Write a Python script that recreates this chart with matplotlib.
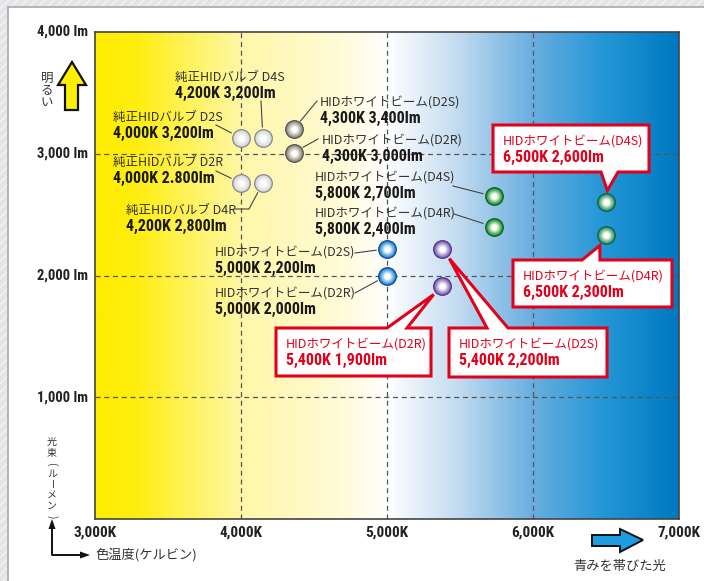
import matplotlib.pyplot as plt
import matplotlib.transforms as mtransforms
import numpy as np
from matplotlib import font_manager
from matplotlib.colors import LinearSegmentedColormap, to_rgb
from matplotlib.patches import Polygon, Rectangle

W, H = 704, 581

# 日本語フォントと細めの数字フォント
JP = 'Noto Sans CJK JP'
installed = {f.name for f in font_manager.fontManager.ttflist}
NUM = 'Roboto'
for cand in ['Liberation Sans Narrow', 'Roboto Condensed', 'Open Sans Condensed']:
    if cand in installed:
        NUM = cand
        break
NUM_SIZE = 11 if NUM != 'Roboto' else 10
plt.rcParams['font.family'] = [JP, 'DejaVu Sans']

# ---- データ（グラフから読み取った位置） ----
names = ['純正HIDバルブ D2S', '純正HIDバルブ D4S', '純正HIDバルブ D2R', '純正HIDバルブ D4R',
         'HIDホワイトビーム(D2S)', 'HIDホワイトビーム(D2R)',
         'HIDホワイトビーム(D4S)', 'HIDホワイトビーム(D4R)',
         'HIDホワイトビーム(D2S)', 'HIDホワイトビーム(D2R)',
         'HIDホワイトビーム(D2S)', 'HIDホワイトビーム(D2R)',
         'HIDホワイトビーム(D4S)', 'HIDホワイトビーム(D4R)']
values = ['4,000K 3,200lm', '4,200K 3,200lm', '4,000K 2.800lm', '4,200K 2,800lm',
          '4,300K 3,400lm', '4,300K 3,000lm',
          '5,800K 2,700lm', '5,800K 2,400lm',
          '5,000K 2,200lm', '5,000K 2,000lm',
          '5,400K 2,200lm', '5,400K 1,900lm',
          '6,500K 2,600lm', '6,500K 2,300lm']
kelvin = [4000, 4150, 4000, 4150, 4360, 4360, 5730, 5730, 5000, 5000, 5380, 5380, 6500, 6500]
lumen = [3130, 3130, 2760, 2760, 3200, 3010, 2650, 2400, 2220, 2000, 2220, 1910, 2600, 2330]
kind = ['white', 'white', 'white', 'white', 'gray', 'gray', 'green', 'green',
        'blue', 'blue', 'purple', 'purple', 'teal', 'teal']

x_ticks = [3000, 4000, 5000, 6000, 7000]
x_tick_labels = ['3,000K', '4,000K', '5,000K', '6,000K', '7,000K']
y_ticks = [1000, 2000, 3000, 4000]
y_tick_labels = ['1,000 lm', '2,000 lm', '3,000 lm', '4,000 lm']

# 玉の色 (縁, 中間)
ball_colors = {
    'white': ('#8a8a8a', '#d4d8de'),
    'gray': ('#555555', '#8e8e88'),
    'green': ('#0c6626', '#24963a'),
    'blue': ('#0a4c9a', '#2a8ade'),
    'purple': ('#51338a', '#8466c0'),
    'teal': ('#0b6446', '#34966a'),
}

fig = plt.figure(figsize=(W / 100, H / 100), dpi=100)
fig.patch.set_facecolor('#e4e5e8')
# 参照画像のピクセル座標 (左上原点)
T = mtransforms.Affine2D().scale(1 / W, -1 / H).translate(0, 1) + fig.transFigure

# 背景の斜線模様
for s in range(-600, 1400, 9):
    fig.add_artist(plt.Line2D([s / W, (s + 600) / W], [0, 1], color='#f2f2f4', lw=1.2,
                              transform=fig.transFigure, zorder=0))
fig.add_artist(Rectangle((8, 7), 720, 600, transform=T, facecolor='white',
                         edgecolor='#a9a9a9', lw=1.2, zorder=1))

ax = fig.add_axes([95 / W, 1 - 519 / H, (679 - 95) / W, (519 - 32) / H])
ax.set_zorder(2)
ax.set_xlim(3000, 7000)
ax.set_ylim(0, 4000)

# 色温度グラデーション
cmap = LinearSegmentedColormap.from_list('kelvin', [
    (0.00, '#ffec00'), (0.07, '#ffee10'), (0.25, '#fff7a8'), (0.42, '#fffbd8'),
    (0.50, '#ffffff'), (0.62, '#c4dcf1'), (0.75, '#6aaee0'), (0.87, '#2597d6'),
    (1.00, '#0079c2')])
ax.imshow(np.linspace(0, 1, 400)[None, :], cmap=cmap, aspect='auto',
          extent=[3000, 7000, 0, 4000], zorder=0)

for k in x_ticks[1:-1]:
    ax.axvline(k, color='#555555', lw=0.9, ls=(0, (4, 3)), zorder=1)
for v in y_ticks[:-1]:
    ax.axhline(v, color='#555555', lw=0.9, ls=(0, (4, 3)), zorder=1)

ax.set_xticks([])
ax.set_yticks([])
for sp in ax.spines.values():
    sp.set_color('#444444')
    sp.set_linewidth(1.2)

# 目盛りラベル
for k, lab in zip(x_ticks, x_tick_labels):
    ax.annotate(lab, (k, 0), xytext=(0, -10), textcoords='offset points', ha='center',
                va='center', fontsize=NUM_SIZE, fontweight='bold', family=NUM, color='#222222',
                annotation_clip=False)
for v, lab in zip(y_ticks, y_tick_labels):
    ax.annotate(lab, (3000, v), xytext=(-5, 0), textcoords='offset points', ha='right',
                va='center', fontsize=NUM_SIZE - 0.5, fontweight='bold', family=NUM,
                color='#222222', annotation_clip=False)


def to_px(k, v):
    return T.inverted().transform(ax.transData.transform((k, v)))


# 玉 (縁 -> 中間色 -> 白いハイライト)
for k, v, c in zip(kelvin, lumen, kind):
    rim, mid = np.array(to_rgb(ball_colors[c][0])), np.array(to_rgb(ball_colors[c][1]))
    white = np.array([1.0, 1.0, 0.97])
    ax.scatter(k, v, s=185, color=rim, lw=0, zorder=5)
    steps = 10
    for i in range(steps):
        t = i / (steps - 1)
        col = mid * (1 - t) + white * t
        frac = 0.86 - 0.56 * t
        ax.scatter(k, v, s=185 * frac ** 2, color=col, lw=0, zorder=5.01 + i * 0.01)

R = 9  # 玉の半径 (px)


def toward(p, q, d):
    p, q = np.asarray(p, float), np.asarray(q, float)
    u = (q - p) / np.hypot(*(q - p))
    return p + u * d


# 黒い注記: (x, 1行目y, 引出線の点列)
black_labels = {
    0: (113, 117, [(216, 125)]),
    1: (175, 77, [(261, 101)]),
    2: (113, 162, [(216, 171)]),
    3: (126, 210, [(235, 209), (249, 209)]),
    4: (320, 102, [(317, 101)]),
    5: (322, 140, [(318, 139)]),
    6: (315, 177, [(453, 186)]),
    7: (315, 213, [(454, 214)]),
    8: (215, 252, [(355, 253)]),
    9: (215, 293, [(355, 293)]),
}
for i, (tx, ty, pts) in black_labels.items():
    fig.text(tx / W, 1 - ty / H, names[i], fontsize=9, color='#333333', va='center', ha='left')
    fig.text(tx / W, 1 - (ty + 16) / H, values[i], fontsize=NUM_SIZE + 0.5, fontweight='bold',
             family=[NUM, JP], color='#1a1a1a', va='center', ha='left')
    c = to_px(kelvin[i], lumen[i])
    end = toward(c, pts[-1], R + 2)
    line = np.array(pts + [tuple(end)])
    fig.add_artist(plt.Line2D(line[:, 0], line[:, 1], color='#444444', lw=0.8,
                              transform=T, zorder=6))

# 赤い吹き出し: (左, 上, 右, 下, 尾の根元x1, x2, 尾の辺)
callouts = {
    10: (449, 328, 607, 377, 487, 508, 'top'),
    11: (276, 328, 431, 376, 387, 407, 'top'),
    12: (493, 125, 649, 172, 601, 618, 'bottom'),
    13: (513, 260, 672, 307, 582, 600, 'top'),
}
RED = '#e2001a'
for i, (l, t, r, b, b1, b2, side) in callouts.items():
    c = to_px(kelvin[i], lumen[i])
    base = ((b1 + b2) / 2, t if side == 'top' else b)
    tip = toward(c, base, R + 3)
    if side == 'top':
        verts = [(l, t), (b1, t), tuple(tip), (b2, t), (r, t), (r, b), (l, b)]
    else:
        verts = [(l, t), (r, t), (r, b), (b2, b), tuple(tip), (b1, b), (l, b)]
    fig.add_artist(Polygon(verts, closed=True, transform=T, facecolor='white',
                           edgecolor=RED, lw=2.2, joinstyle='miter', zorder=7))
    fig.text((l + 10) / W, 1 - (t + 16) / H, names[i], fontsize=9, color=RED,
             va='center', ha='left', zorder=8)
    fig.text((l + 10) / W, 1 - (t + 32) / H, values[i], fontsize=NUM_SIZE + 0.5,
             fontweight='bold', family=[NUM, JP], color=RED, va='center', ha='left', zorder=8)

# 明るい + 黄色い矢印
for j, ch in enumerate('明るい'):
    fig.text(47 / W, 1 - (78 + j * 12) / H, ch, fontsize=9, color='#333333',
             ha='center', va='center')
fig.add_artist(Polygon([(72, 62), (86, 85), (78, 85), (78, 110), (65, 110), (65, 85), (58, 85)],
                       closed=True, transform=T, facecolor='#fff000', edgecolor='#111111',
                       lw=1.6, joinstyle='miter', zorder=3))

# 光束(ルーメン) 縦書き
for j, ch in enumerate('光束(ルーメン)'):
    rot = -90 if ch in '()ー' else 0
    fig.text(52 / W, 1 - (442 + j * 10.6) / H, ch, fontsize=7.2, color='#333333',
             ha='center', va='center', rotation=rot)

# L字の矢印
fig.add_artist(plt.Line2D([52, 52, 82], [527, 555, 555], color='#111111', lw=1.4,
                          transform=T, zorder=3))
fig.add_artist(Polygon([(52, 519), (48.5, 529), (55.5, 529)], closed=True, transform=T,
                       facecolor='#111111', edgecolor='none', zorder=3))
fig.add_artist(Polygon([(90, 555), (80, 551.5), (80, 558.5)], closed=True, transform=T,
                       facecolor='#111111', edgecolor='none', zorder=3))
fig.text(95 / W, 1 - 555 / H, '色温度(ケルビン)', fontsize=9.5, color='#333333',
         ha='left', va='center')

# 青い矢印
fig.add_artist(Polygon([(592, 535), (620, 535), (620, 529), (643, 540), (620, 552),
                        (620, 546), (592, 546)], closed=True, transform=T,
                       facecolor='#1e9ee0', edgecolor='#111111', lw=1.4,
                       joinstyle='miter', zorder=3))
fig.text(620 / W, 1 - 566 / H, '青みを帯びた光', fontsize=9.5, color='#333333',
         ha='center', va='center')

fig.savefig('out.png', dpi=100, facecolor=fig.get_facecolor())
